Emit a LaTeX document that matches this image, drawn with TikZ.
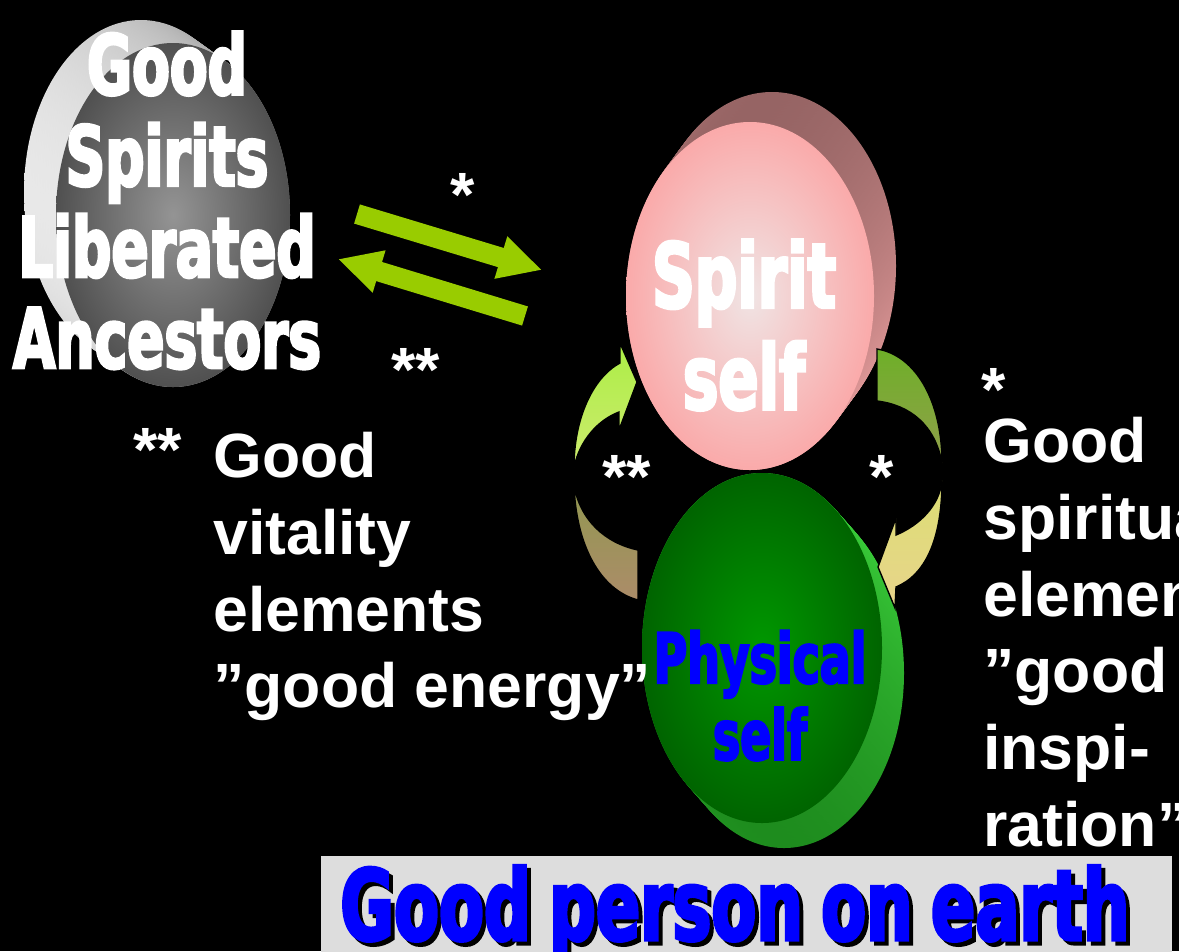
\documentclass[tikz,border=0pt]{standalone}
\usepackage{fontspec}
\setmainfont{Liberation Sans}
\newfontfamily\impactfont[FakeStretch=0.66, FakeBold=3]{DejaVu Sans Bold}
\newfontfamily\bannerfont[FakeStretch=0.665, FakeBold=3, WordSpace=0.8]{DejaVu Sans Bold}
\usetikzlibrary{arrows.meta}
\usetikzlibrary{calc}

\definecolor{arrowgreen}{RGB}{153,204,0}
\definecolor{grayface}{RGB}{80,80,80}
\definecolor{grayhi}{RGB}{148,148,148}
\definecolor{grayrimL}{RGB}{232,232,232}
\definecolor{grayrimR}{RGB}{150,150,150}
\definecolor{pinkface}{RGB}{250,170,170}
\definecolor{pinkhi}{RGB}{240,228,228}
\definecolor{pinkrimT}{RGB}{150,100,100}
\definecolor{pinkrimB}{RGB}{238,162,162}
\definecolor{greenface}{RGB}{0,100,0}
\definecolor{greenhi}{RGB}{0,152,0}
\definecolor{greenrimT}{RGB}{60,210,60}
\definecolor{greenrimB}{RGB}{30,140,30}
\definecolor{limeT}{RGB}{172,238,70}
\definecolor{limeB}{RGB}{205,235,110}
\definecolor{tanT}{RGB}{145,152,80}
\definecolor{tanB}{RGB}{172,140,105}
\definecolor{oliveT}{RGB}{110,175,40}
\definecolor{oliveB}{RGB}{145,160,75}
\definecolor{paleT}{RGB}{220,222,115}
\definecolor{paleB}{RGB}{232,212,140}
\definecolor{bannergray}{RGB}{221,221,221}

\begin{document}
\begin{tikzpicture}[x=0.02cm, y=-0.02cm,
    lbl/.style={font=\fontsize{35.6pt}{43.65pt}\selectfont\bfseries, text=white, inner sep=0pt, align=left},
    imp/.style={inner sep=0pt, align=center},
    link/.style={arrowgreen, line width=0.4cm, -{Triangle[length=0.86cm, width=0.82cm]}},
    curvearrow/.style={draw=black, line width=0.8pt}]

        % Background and page frame
        \fill[black] (0,0) rectangle (1179,951);
        \useasboundingbox (0,0) rectangle (1179,951);
        \clip (0,0) rectangle (1179,951);

        % Disc centres: rear side and front face
        \coordinate (rearA) at (141,192); \coordinate (faceA) at (173,215);
        \coordinate (rearS) at (772,266); \coordinate (faceS) at (750,296);
        \coordinate (rearP) at (784,673); \coordinate (faceP) at (762,648);

        % Rims, built from slices between rear and face
        \foreach \i in {0,...,20} {
          \pgfmathsetmacro\f{\i/20}
          \shade[left color=grayrimL, right color=grayrimR] ($(rearA)!\f!(faceA)$) ellipse [x radius=117, y radius=172];
          \shade[top color=pinkrimT, bottom color=pinkrimB] ($(rearS)!\f!(faceS)$) ellipse [x radius=124, y radius=174];
          \shade[top color=greenrimT, bottom color=greenrimB] ($(rearP)!\f!(faceP)$) ellipse [x radius=120, y radius=175];
        }

        % Faces
        \shade[inner color=grayhi, outer color=grayface] (faceA) ellipse [x radius=117, y radius=172];
        \shade[inner color=pinkhi, outer color=pinkface] (faceS) ellipse [x radius=124, y radius=174];
        \shade[inner color=greenhi, outer color=greenface] (faceP) ellipse [x radius=120, y radius=175];

        % Straight arrows between ancestors and spirit
        \coordinate (fwdS) at (357,214); \coordinate (fwdE) at (542,270);
        \coordinate (bckS) at (525,316); \coordinate (bckE) at (338,259);
        \draw[link] (fwdS) -- (fwdE);
        \draw[link] (bckS) -- (bckE);

        % Curved arrow on the left, up into the spirit
        \shade[curvearrow, top color=limeT, bottom color=limeB]
          (574,467) .. controls (574,420) and (592,378) .. (620,363) -- (620,343) -- (637,382)
          -- (619,430) -- (619,412) .. controls (598,420) and (580,440) .. (574,467) -- cycle;
        \shade[curvearrow, top color=tanT, bottom color=tanB]
          (574,485) .. controls (576,545) and (600,590) .. (638,600) -- (638,550)
          .. controls (605,543) and (580,520) .. (574,485) -- cycle;

        % Curved arrow on the right, down into the body
        \shade[curvearrow, top color=oliveT, bottom color=oliveB]
          (877,349) .. controls (915,355) and (942,400) .. (942,463)
          .. controls (935,425) and (910,405) .. (877,401) -- cycle;
        \shade[curvearrow, top color=paleT, bottom color=paleB]
          (942,480) .. controls (942,540) and (925,575) .. (896,587) -- (895,608) -- (878,567)
          -- (896,518) -- (896,535) .. controls (920,525) and (940,505) .. (942,480) -- cycle;

        % Disc titles
        \node[imp, anchor=north, text=white, font=\impactfont\fontsize{47.4pt}{51.9pt}\selectfont] (ancestors) at (167,31) {Good\\Spirits\\Liberated\\Ancestors};
        \node[imp, anchor=north, text=white, font=\impactfont\fontsize{51.3pt}{57.8pt}\selectfont] (spirit) at (744,239) {Spirit\\self};
        \node[imp, anchor=north, text=blue, font=\impactfont\fontsize{39.5pt}{43.7pt}\selectfont] (physical) at (760,630) {Physical\\self};

        % Asterisk marks
        \node[lbl, anchor=north] (mkA) at (463,173) {*};
        \node[lbl, anchor=north] (mkB) at (416,348) {**};
        \node[lbl, anchor=north] (mkC) at (627,455) {**};
        \node[lbl, anchor=north] (mkD) at (882,455) {*};
        \node[lbl, anchor=north] (mkE) at (994,368) {*};
        \node[lbl, anchor=north] (mkF) at (158,428) {**};

        % Side texts
        \node[lbl, anchor=north west] (vitality) at (213,432) {Good\\vitality\\elements\\”good energy”};
        \node[lbl, anchor=north west] (inspiration) at (983,417) {Good\\spiritual\\elements\\”good\\inspi-\\ration”};

        % Banner
        \fill[bannergray] (321,856) rectangle (1172,960);
        \node[imp, anchor=north west, text=black, font=\bannerfont\fontsize{56pt}{60pt}\selectfont] (bannershadow) at (344,869) {Good person on earth};
        \node[imp, anchor=north west, text=blue, font=\bannerfont\fontsize{56pt}{60pt}\selectfont] (banner) at (340,865) {Good person on earth};

\end{tikzpicture}
\end{document}
